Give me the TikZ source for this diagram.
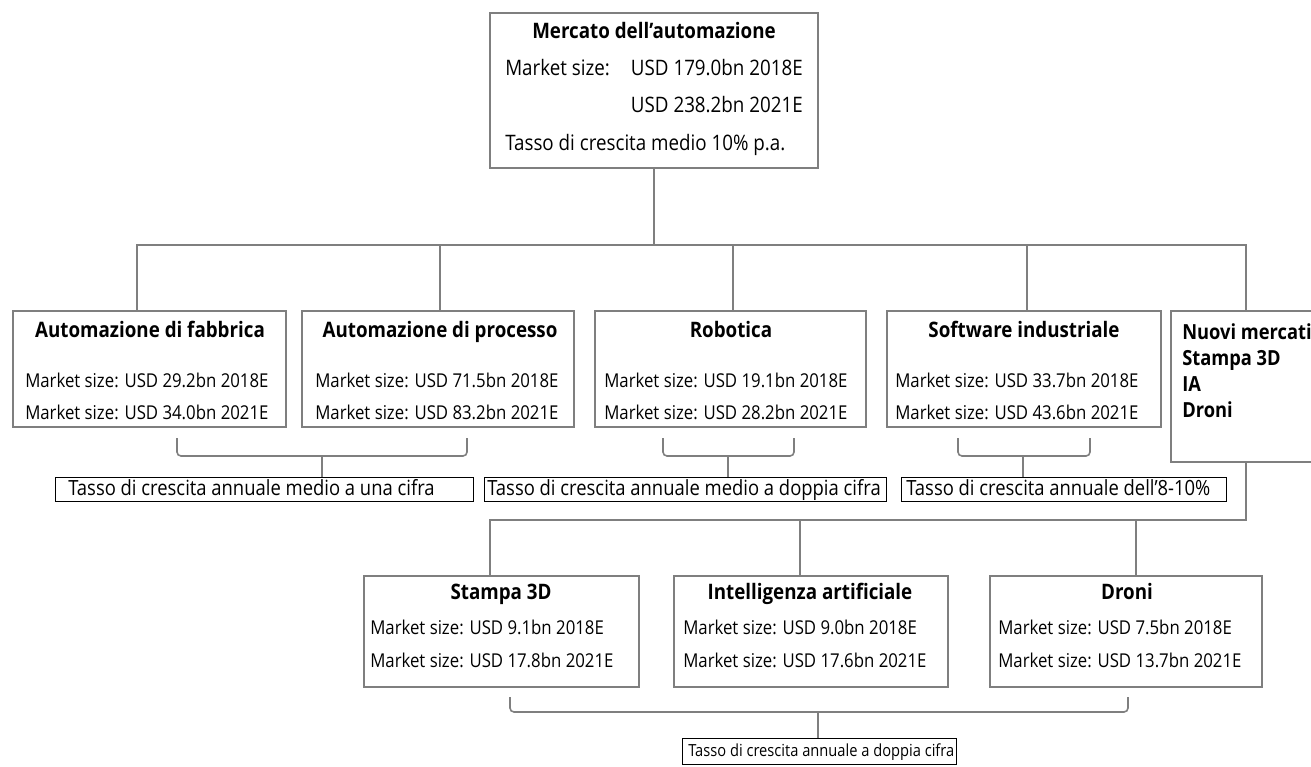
\documentclass[tikz,border=0pt]{standalone}
\usepackage{fontspec}
\setmainfont{Open Sans}[FakeStretch=0.88]
\begin{document}
\begin{tikzpicture}[x=0.75pt,y=-0.75pt,
  box/.style={draw=boxgray,line width=1.3pt,fill=white},
  wire/.style={draw=boxgray,line width=1.2pt},
  brace/.style={draw=boxgray,line width=1.2pt,rounded corners=3pt},
  note/.style={draw=black,line width=0.6pt,anchor=north west,inner sep=0pt,minimum height=18pt},
  ttl/.style={font=\fontsize{16}{18}\selectfont\bfseries,anchor=base,inner sep=0pt},
  txt/.style={font=\fontsize{14.3}{16}\selectfont,anchor=base west,inner sep=0pt},
  bigtxt/.style={txt,font=\fontsize{16}{18}\selectfont},
  notetxt/.style={txt,font=\fontsize{15.7}{18}\selectfont},
  smalltxt/.style={txt,font=\fontsize{12.5}{14}\selectfont},
  newtxt/.style={font=\fontsize{15.6}{17}\selectfont\bfseries,anchor=base west,inner sep=0pt},
]
\definecolor{boxgray}{HTML}{7F7F7F}
\useasboundingbox (0,0) rectangle (1311,767);
\clip (0,0) rectangle (1311,767);

% top box
\draw[box] (490,13) rectangle (818,168);
\coordinate (topb) at (654,168);
\node[ttl] (t0) at (654,39) {Mercato dell’automazione};
\node[bigtxt] (t1) at (505,76) {Market size:};
\node[bigtxt,anchor=base east] (t2) at (803,76) {USD 179.0bn 2018E};
\node[bigtxt,anchor=base east] (t3) at (803,113) {USD 238.2bn 2021E};
\node[bigtxt] (t4) at (505,151) {Tasso di crescita medio 10\% p.a.};

% first row of boxes
\draw[box] (13,311) rectangle (286,427);  \coordinate (a) at (137,311);
\draw[box] (302,311) rectangle (574,427); \coordinate (b) at (440,311);
\draw[box] (595,311) rectangle (866,427); \coordinate (c) at (733,311);
\draw[box] (887,311) rectangle (1161,427);\coordinate (d) at (1027,311);
\draw[box] (1171,311) rectangle (1330,462);\coordinate (e) at (1246,311);
\coordinate (eb) at (1246,462);

\node[ttl] at (150,337) {Automazione di fabbrica};
\node[txt] at (25,387) {Market size: USD 29.2bn 2018E};
\node[txt] at (25,419) {Market size: USD 34.0bn 2021E};

\node[ttl] at (440,337) {Automazione di processo};
\node[txt] at (315,387) {Market size: USD 71.5bn 2018E};
\node[txt] at (315,419) {Market size: USD 83.2bn 2021E};

\node[ttl] at (731,337) {Robotica};
\node[txt] at (604,387) {Market size: USD 19.1bn 2018E};
\node[txt] at (604,419) {Market size: USD 28.2bn 2021E};

\node[ttl] at (1024,337) {Software industriale};
\node[txt] at (895,387) {Market size: USD 33.7bn 2018E};
\node[txt] at (895,419) {Market size: USD 43.6bn 2021E};

\node[newtxt] at (1182,339) {Nuovi mercati};
\node[newtxt] at (1182,365) {Stampa 3D};
\node[newtxt] at (1182,391) {IA};
\node[newtxt] at (1182,417) {Droni};

% tree connectors
\draw[wire] (topb) -- (654,245);
\draw[wire] (a) -- (137,245) -- (1246,245) -- (e);
\draw[wire] (b) -- (440,245);
\draw[wire] (c) -- (733,245);
\draw[wire] (d) -- (1027,245);

% growth notes under the first row
\node[note,minimum width=418*0.75pt] (n1) at (55,477) {};
\node[notetxt] at (68,495) {Tasso di crescita annuale medio a una cifra};
\node[note,minimum width=402*0.75pt] (n2) at (484,477) {};
\node[notetxt] at (487,495) {Tasso di crescita annuale medio a doppia cifra};
\node[note,minimum width=325*0.75pt] (n3) at (901,477) {};
\node[notetxt] at (906,495) {Tasso di crescita annuale dell’8-10\%};

\draw[brace] (177,438) -- (177,456) -- (467,456) -- (467,438);
\draw[wire] (322,456) -- (n1.north -| 322,0);
\draw[brace] (663,438) -- (663,456) -- (794,456) -- (794,438);
\draw[wire] (728,456) -- (n2.north -| 728,0);
\draw[brace] (958,438) -- (958,456) -- (1090,456) -- (1090,438);
\draw[wire] (1023,456) -- (n3.north -| 1023,0);

% second level under new markets
\draw[box] (364,576) rectangle (639,687);
\draw[box] (674,576) rectangle (948,687);
\draw[box] (990,576) rectangle (1262,687);
\draw[wire] (eb) -- (1246,520) -- (490,520) -- (490,576);
\draw[wire] (800,520) -- (800,576);
\draw[wire] (1136,520) -- (1136,576);

\node[ttl] at (501,599) {Stampa 3D};
\node[txt] at (370,634) {Market size: USD 9.1bn 2018E};
\node[txt] at (370,667) {Market size: USD 17.8bn 2021E};

\node[ttl] at (810,599) {Intelligenza artificiale};
\node[txt] at (683,634) {Market size: USD 9.0bn 2018E};
\node[txt] at (683,667) {Market size: USD 17.6bn 2021E};

\node[ttl] at (1127,599) {Droni};
\node[txt] at (998,634) {Market size: USD 7.5bn 2018E};
\node[txt] at (998,667) {Market size: USD 13.7bn 2021E};

\draw[brace] (510,697) -- (510,712) -- (1128,712) -- (1128,697);
\node[note,minimum width=274*0.75pt,minimum height=19.5pt] (n4) at (682,738) {};
\draw[wire] (818,712) -- (n4.north -| 818,0);
\node[smalltxt] at (688,756) {Tasso di crescita annuale a doppia cifra};
\end{tikzpicture}
\end{document}
